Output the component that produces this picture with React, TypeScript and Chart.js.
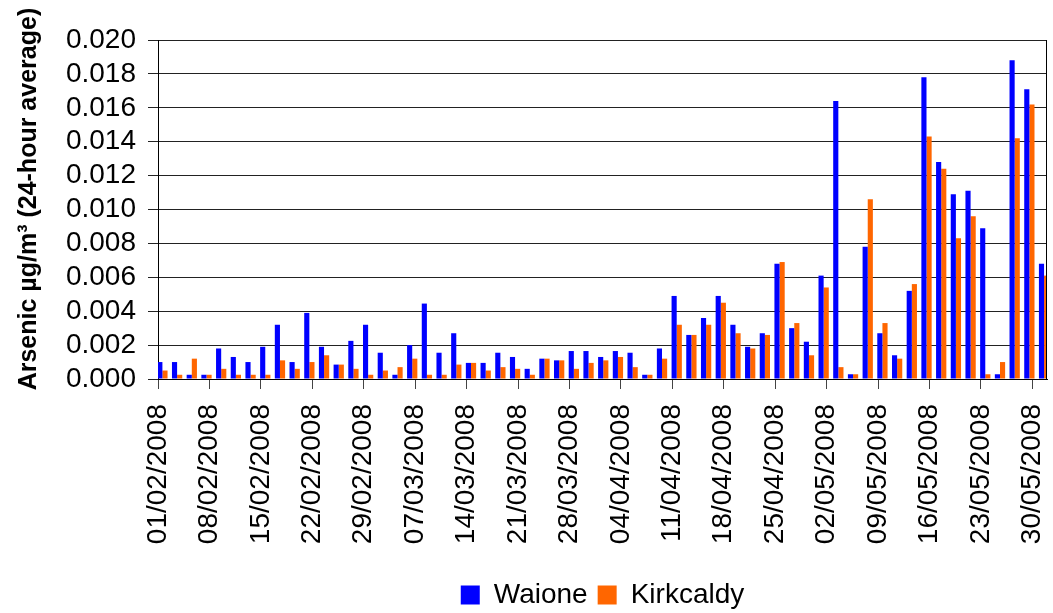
import { useEffect, useRef } from "react";
import { Chart, registerables } from "chart.js";

Chart.register(...registerables);

// Sampling days (one 24-hour sample every second day)
const sampleDates = [
  "01/02/2008", "03/02/2008", "05/02/2008", "07/02/2008", "09/02/2008", "11/02/2008",
  "13/02/2008", "15/02/2008", "17/02/2008", "19/02/2008", "21/02/2008", "23/02/2008",
  "25/02/2008", "27/02/2008", "29/02/2008", "02/03/2008", "04/03/2008", "06/03/2008",
  "08/03/2008", "10/03/2008", "12/03/2008", "14/03/2008", "16/03/2008", "18/03/2008",
  "20/03/2008", "22/03/2008", "24/03/2008", "26/03/2008", "28/03/2008", "30/03/2008",
  "01/04/2008", "03/04/2008", "05/04/2008", "07/04/2008", "09/04/2008", "11/04/2008",
  "13/04/2008", "15/04/2008", "17/04/2008", "19/04/2008", "21/04/2008", "23/04/2008",
  "25/04/2008", "27/04/2008", "29/04/2008", "01/05/2008", "03/05/2008", "05/05/2008",
  "07/05/2008", "09/05/2008", "11/05/2008", "13/05/2008", "15/05/2008", "17/05/2008",
  "19/05/2008", "21/05/2008", "23/05/2008", "25/05/2008", "27/05/2008", "29/05/2008",
  "31/05/2008",
];

// Arsenic, µg/m³ (24-hour average)
const waione = [
  0.0010, 0.0010, 0.00025, 0.00025, 0.0018, 0.0013, 0.0010, 0.0019, 0.0032, 0.0010,
  0.0039, 0.0019, 0.00085, 0.00225, 0.0032, 0.00155, 0.00025, 0.0020, 0.00445, 0.00155,
  0.0027, 0.00095, 0.00095, 0.00155, 0.0013, 0.0006, 0.0012, 0.0011, 0.00165, 0.00165,
  0.0013, 0.00165, 0.00155, 0.00025, 0.0018, 0.0049, 0.0026, 0.0036, 0.0049, 0.0032,
  0.0019, 0.0027, 0.0068, 0.0030, 0.0022, 0.0061, 0.0164, 0.00028, 0.0078, 0.0027,
  0.0014, 0.0052, 0.0178, 0.0128, 0.0109, 0.0111, 0.0089, 0.00028, 0.0188, 0.0171,
  0.0068,
];

const kirkcaldy = [
  0.0005, 0.00025, 0.0012, 0.00025, 0.0006, 0.00025, 0.00025, 0.00025, 0.0011, 0.0006,
  0.0010, 0.0014, 0.00085, 0.0006, 0.00025, 0.0005, 0.0007, 0.0012, 0.00025, 0.00025,
  0.00085, 0.00095, 0.0005, 0.0007, 0.0006, 0.00025, 0.0012, 0.0011, 0.0006, 0.00095,
  0.0011, 0.0013, 0.0007, 0.00025, 0.0012, 0.0032, 0.0026, 0.0032, 0.0045, 0.0027,
  0.0018, 0.0026, 0.0069, 0.0033, 0.0014, 0.0054, 0.0007, 0.00028, 0.0106, 0.0033,
  0.0012, 0.0056, 0.0143, 0.0124, 0.0083, 0.0096, 0.00028, 0.0010, 0.0142, 0.0162,
  0.0061,
];

// Weekly axis labels
const tickLabels = [
  "01/02/2008", "08/02/2008", "15/02/2008", "22/02/2008", "29/02/2008", "07/03/2008",
  "14/03/2008", "21/03/2008", "28/03/2008", "04/04/2008", "11/04/2008", "18/04/2008",
  "25/04/2008", "02/05/2008", "09/05/2008", "16/05/2008", "23/05/2008", "30/05/2008",
];

const axisStart = "01/02/2008";
const axisEnd = "01/06/2008";

const seriesNames = ["Waione", "Kirkcaldy"];
const seriesColors = ["#0000FF", "#FF6600"];
const yTitle = "Arsenic µg/m³ (24-hour average)";

const FONT = "'Liberation Sans', Arial, sans-serif";

function dayNumber(s: string): number {
  const [d, m, y] = s.split("/").map(Number);
  return Math.round(Date.UTC(y, m - 1, d) / 86400000);
}
const origin = dayNumber(axisStart);
const dayOf = (s: string) => dayNumber(s) - origin;

// Each day's pair of columns sits inside that day's slot, just right of its tick.
const SLOT_CENTRE = 0.6;

// Centres the legend under the plot area instead of the whole canvas.
const legendUnderPlot = {
  id: "legendUnderPlot",
  afterLayout(chart: any) {
    const lg = chart.legend;
    if (!lg) return;
    const w = lg.right - lg.left;
    const mid = (chart.chartArea.left + chart.chartArea.right) / 2;
    lg.left = mid - w / 2;
    lg.right = mid + w / 2;
  },
};

// Closes the plot box on the right-hand side.
const plotFrame = {
  id: "plotFrame",
  afterDatasetsDraw(chart: any) {
    const { ctx, chartArea } = chart;
    ctx.save();
    ctx.strokeStyle = "#000";
    ctx.lineWidth = 1;
    const x = Math.round(chartArea.right) - 0.5;
    ctx.beginPath();
    ctx.moveTo(x, chartArea.top);
    ctx.lineTo(x, chartArea.bottom);
    ctx.stroke();
    ctx.restore();
  },
};

export default function App() {
  const canvasRef = useRef<HTMLCanvasElement | null>(null);

  useEffect(() => {
    const canvas = canvasRef.current;
    if (!canvas) return;

    const toPoints = (vals: number[]) =>
      sampleDates.map((d, i) => ({ x: dayOf(d) + SLOT_CENTRE, y: vals[i] }));

    const chart = new Chart(canvas, {
      type: "bar",
      data: {
        datasets: [
          {
            label: seriesNames[0],
            data: toPoints(waione),
            backgroundColor: seriesColors[0],
            borderWidth: 0,
          },
          {
            label: seriesNames[1],
            data: toPoints(kirkcaldy),
            backgroundColor: seriesColors[1],
            borderWidth: 0,
          },
        ],
      },
      options: {
        responsive: false,
        animation: false,
        devicePixelRatio: 1,
        categoryPercentage: 0.7,
        barPercentage: 1,
        layout: { padding: { top: 40, right: 6, bottom: -6, left: 0 } },
        plugins: {
          tooltip: { enabled: false },
          legend: {
            position: "bottom",
            labels: {
              boxWidth: 19,
              boxHeight: 19,
              padding: 10,
              color: "#000",
              font: { family: FONT, size: 28 },
            },
          },
        },
        scales: {
          x: {
            type: "linear",
            min: 0,
            max: dayOf(axisEnd),
            offset: false,
            grid: {
              offset: false,
              drawOnChartArea: false,
              drawTicks: true,
              tickLength: 10,
              color: "#444",
            },
            border: { display: true, color: "#000", width: 1 },
            ticks: {
              autoSkip: false,
              minRotation: 90,
              maxRotation: 90,
              padding: 15,
              color: "#000",
              font: { family: FONT, size: 28 },
              callback: (value: any) => {
                const lbl = tickLabels.find((l) => dayOf(l) === Number(value));
                return lbl ?? "";
              },
            },
            afterBuildTicks: (scale: any) => {
              scale.ticks = tickLabels.map((l) => ({ value: dayOf(l) }));
            },
            afterFit: (scale: any) => {
              scale.height = 192;
              scale.paddingLeft = 0;
              scale.paddingRight = 0;
            },
          },
          y: {
            min: 0,
            max: 0.02,
            grid: { color: "#222", tickLength: 10, lineWidth: 1 },
            border: { display: true, color: "#000", width: 1 },
            ticks: {
              autoSkip: false,
              stepSize: 0.002,
              padding: 12,
              color: "#000",
              font: { family: FONT, size: 28 },
              callback: (value: any) => Number(value).toFixed(3),
            },
            title: {
              display: true,
              // leading spaces lift the rotated title slightly above the axis centre
              text: "   " + yTitle,
              color: "#000",
              font: { family: FONT, size: 25, weight: "bold" },
              padding: { top: 14, bottom: 0 },
            },
            afterFit: (scale: any) => {
              scale.width = 158;
            },
          },
        },
      },
      plugins: [legendUnderPlot, plotFrame],
    });

    return () => chart.destroy();
  }, []);

  return (
    <div style={{ position: "absolute", left: 0, top: 0, width: 1053, height: 613, background: "#fff" }}>
      <canvas ref={canvasRef} width={1053} height={613} style={{ width: 1053, height: 613 }} />
    </div>
  );
}
